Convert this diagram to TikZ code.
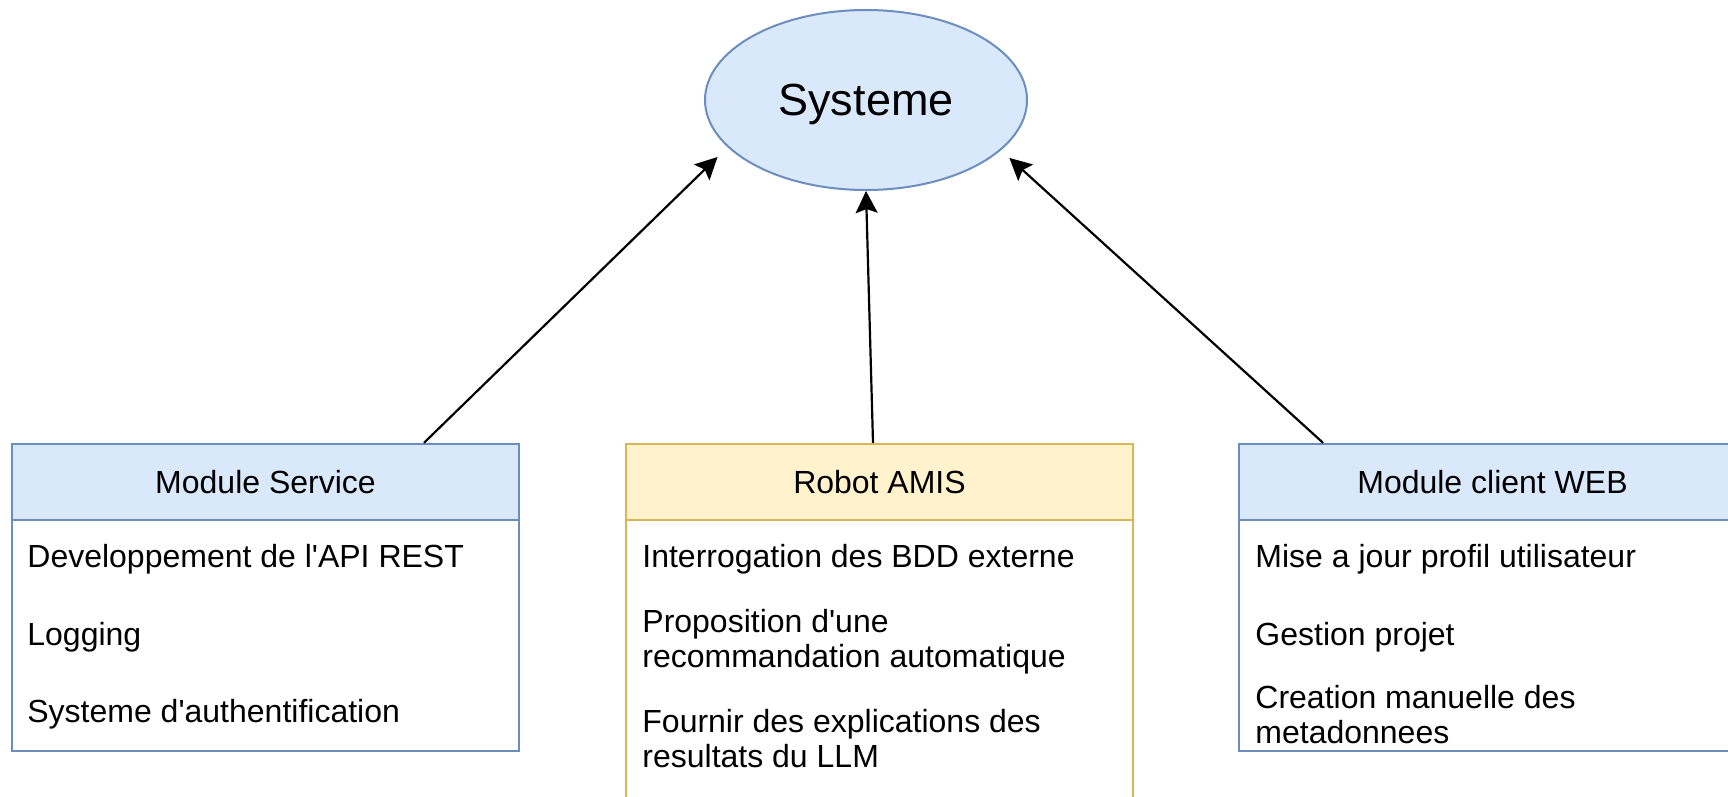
\documentclass[tikz,border=0pt]{standalone}
\usepackage{fontspec}
\setmainfont{Liberation Sans}
\usetikzlibrary{calc, shapes.geometric, arrows.meta}

\definecolor{bluefill}{HTML}{DAE8FC}
\definecolor{blueline}{HTML}{6C8EBF}
\definecolor{yellowfill}{HTML}{FFF2CC}
\definecolor{yellowline}{HTML}{D6B656}

\tikzset{
 header/.style={draw, line width=1.2pt, minimum width=253.5pt, minimum height=38pt, inner sep=0pt, font=\fontsize{16}{17.5}\selectfont},
 body/.style={draw, line width=1.2pt, fill=white, minimum width=253.5pt, inner sep=0pt},
 entry/.style={anchor=base west, inner sep=0pt, align=left, font=\fontsize{16}{17.5}\selectfont},
 conn/.style={-{Stealth[length=11pt, width=11pt, inset=2pt]}, line width=1.1pt},
}

\begin{document}
\begin{tikzpicture}[x=0.5pt, y=-0.5pt]
 \useasboundingbox (0,0) rectangle (1728,797);
 \node[ellipse, draw=blueline, fill=bluefill, line width=1pt, minimum width=161pt, minimum height=90pt,
  inner sep=0pt, text depth=0pt, font=\fontsize{22.5}{26}\selectfont] (sys) at (866,100) {Systeme};
 % les trois modules
 \node[body, draw=blueline, minimum height=115.5pt] (msbody) at (265.5,635.5) {};
 \node[header, draw=blueline, fill=bluefill] (ms) at (265.5,482) {Module Service};
 \node[body, draw=yellowline, minimum height=155pt] (robotbody) at (879.5,675) {};
 \node[header, draw=yellowline, fill=yellowfill] (robot) at (879.5,482) {Robot AMIS};
 \node[body, draw=blueline, minimum height=115.5pt] (webbody) at (1492.5,635.5) {};
 \node[header, draw=blueline, fill=bluefill] (web) at (1492.5,482) {Module client WEB};
 % contenu (base = derniere ligne)
 \node[entry] (ms1) at (27,567) {Developpement de l\textquotesingle API REST};
 \node[entry] (ms2) at (27,645) {Logging};
 \node[entry] (ms3) at (27,722) {Systeme d\textquotesingle authentification};
 \node[entry] (robot1) at (642,567) {Interrogation des BDD externe};
 \node[entry] (robot2) at (642,667) {Proposition d\textquotesingle une\\recommandation automatique};
 \node[entry] (robot3) at (642,767) {Fournir des explications des\\resultats du LLM};
 \node[entry] (web1) at (1255,567) {Mise a jour profil utilisateur};
 \node[entry] (web2) at (1255,645) {Gestion projet};
 \node[entry] (web3) at (1255,743) {Creation manuelle des\\metadonnees};
 % fleches
 \draw[conn] ($(ms.north)+(158.5,0)$) -- ($(sys.center)!1.11!(sys.201)$);
 \draw[conn] ($(robot.north)+(-6.5,0)$) -- (sys.south);
 \draw[conn] ($(web.north)+(-169.5,0)$) -- ($(sys.center)!1.09!(sys.338)$);
\end{tikzpicture}
\end{document}
